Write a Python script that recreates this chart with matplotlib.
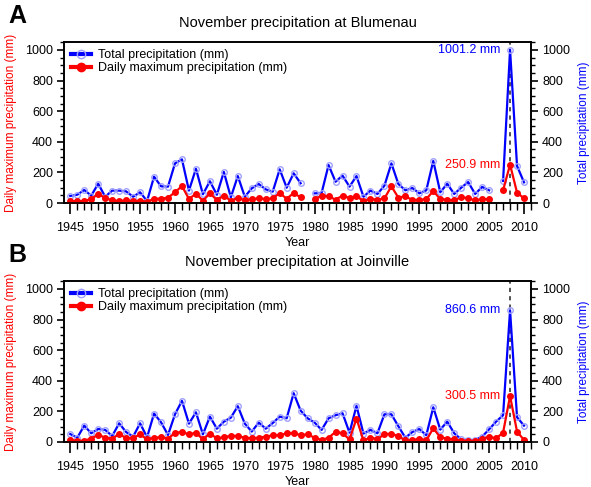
import numpy as np
import matplotlib
matplotlib.use("Agg")
import matplotlib.pyplot as plt
from matplotlib.ticker import MultipleLocator

plt.rcParams['font.family'] = ['Liberation Sans', 'DejaVu Sans']

years = list(range(1945, 2011))
nan = np.nan

blumenau_total = [46, 54, 85, 48, 126, 41, 81, 81, 76, 41,
                  70, 13, 172, 109, 107, 259, 285, 81, 224, 57,
                  142, 54, 203, 37, 176, 41, 96, 124, 89, 74,
                  220, 100, 194, 129, nan, 63, 65, 248, 139, 179,
                  107, 176, 41, 81, 59, 113, 259, 124, 83, 98,
                  63, 83, 275, 70, 126, 59, 100, 137, 59, 105,
                  83, nan, 144, 1001.2, 242, 135]
blumenau_max = [13, 11, 13, 26, 59, 33, 17, 13, 17, 13,
                15, 7, 28, 28, 35, 70, 111, 26, 61, 15,
                63, 20, 48, 15, 33, 17, 26, 30, 26, 30,
                65, 28, 65, 37, nan, 26, 48, 44, 22, 48,
                33, 44, 13, 26, 22, 30, 109, 35, 44, 20,
                20, 26, 78, 26, 22, 17, 39, 30, 17, 26,
                24, nan, 83, 250.9, 68, 30]

joinville_total = [52, 28, 107, 57, 85, 79, 39, 122, 65, 35,
                   122, 31, 186, 129, 46, 181, 269, 120, 194, 50,
                   166, 87, 133, 159, 234, 120, 68, 127, 87, 124,
                   166, 155, 319, 205, 155, 127, 79, 155, 175, 188,
                   61, 236, 55, 79, 57, 181, 181, 103, 28, 65,
                   85, 44, 227, 81, 133, 57, 17, 13, 13, 35,
                   83, 133, 175, 860.6, 162, 107]
joinville_max = [13, 7, 9, 22, 48, 28, 22, 52, 26, 26,
                 50, 17, 28, 31, 22, 59, 66, 50, 61, 17,
                 55, 24, 31, 41, 39, 28, 24, 28, 35, 44,
                 44, 57, 57, 45, 50, 28, 13, 28, 66, 57,
                 17, 153, 11, 28, 20, 50, 55, 37, 11, 11,
                 22, 11, 90, 31, 22, 17, 9, 7, 7, 22,
                 33, 24, 61, 300.5, 68, 13]

titles = ["November precipitation at Blumenau", "November precipitation at Joinville"]
letters = ["A", "B"]
peak_year = 2008
x_ticks = list(range(1945, 2011, 5))
y_ticks = list(range(0, 1001, 200))

W, H = 591, 487
fig = plt.figure(figsize=(W / 100, H / 100), dpi=100)

panels = [(blumenau_total, blumenau_max, 42), (joinville_total, joinville_max, 281)]
for i, (tot, mx, top) in enumerate(panels):
    left, right, bottom = 64, 531, top + 161
    ax = fig.add_axes([left / W, 1 - bottom / H, (right - left) / W, (bottom - top) / H])
    ax2 = ax.twinx()
    for a in (ax, ax2):
        a.set_xlim(1944.1, 2011.0)
        a.set_ylim(0, 1052)
        a.yaxis.set_major_locator(MultipleLocator(200))
        a.yaxis.set_minor_locator(MultipleLocator(50))
        a.tick_params(axis='both', which='major', direction='out', length=5, width=1.2,
                      labelsize=9, pad=3)
        a.tick_params(axis='both', which='minor', direction='out', length=3, width=1.0)
        for s in a.spines.values():
            s.set_linewidth(1.2)
    ax.xaxis.set_major_locator(MultipleLocator(5))
    ax.xaxis.set_minor_locator(MultipleLocator(1))
    ax.set_xticks(x_ticks)
    ax.tick_params(axis='x', which='major', length=8, pad=6)
    ax.tick_params(axis='x', which='minor', length=5)
    ax.set_yticks(y_ticks)
    ax2.set_yticks(y_ticks)

    ax.axvline(peak_year, color='#333333', linestyle=(0, (2.5, 2.5)), linewidth=1.2, zorder=1)

    l1, = ax.plot(years, tot, color='#0000ff', linewidth=1.6, marker='o', markersize=4,
                  markerfacecolor='none', markeredgecolor='#a0a0ff', markeredgewidth=1.0,
                  label='Total precipitation (mm)', zorder=3)
    l2, = ax.plot(years, mx, color='#ff0000', linewidth=1.6, marker='o', markersize=4,
                  markerfacecolor='#ff0000', markeredgecolor='#ff0000',
                  label='Daily maximum precipitation (mm)', zorder=4)

    leg = ax.legend(handles=[l1, l2], loc='upper left', frameon=False, fontsize=9,
                    handlelength=1.6, handletextpad=0.6, borderaxespad=0.15,
                    labelspacing=0.1, numpoints=1, bbox_to_anchor=(0.0, 1.0))
    for lh in leg.get_lines():
        lh.set_linewidth(3.0)
        lh.set_markersize(6)

    pk = years.index(peak_year)
    ax.annotate(f"{tot[pk]:.1f} mm", xy=(peak_year, tot[pk]), xytext=(-7, 0),
                textcoords='offset points', ha='right', va='center', color='#0000ff', fontsize=9)
    ax.annotate(f"{mx[pk]:.1f} mm", xy=(peak_year, mx[pk]), xytext=(-7, 0),
                textcoords='offset points', ha='right', va='center', color='#ff0000', fontsize=9)

    ax.set_title(titles[i], fontsize=10.5, pad=11)
    ax.set_xlabel('Year', fontsize=9, labelpad=2)
    ax.set_ylabel('Daily maximum precipitation (mm)', color='#ff0000', fontsize=8.5, labelpad=6)
    ax2.set_ylabel('Total precipitation (mm)', color='#0000ff', fontsize=8.5, labelpad=6)

    fig.text(8 / W, 1 - (top - 26) / H, letters[i], fontsize=18, fontweight='bold',
             ha='left', va='center')

fig.savefig('out.png', dpi=100)
